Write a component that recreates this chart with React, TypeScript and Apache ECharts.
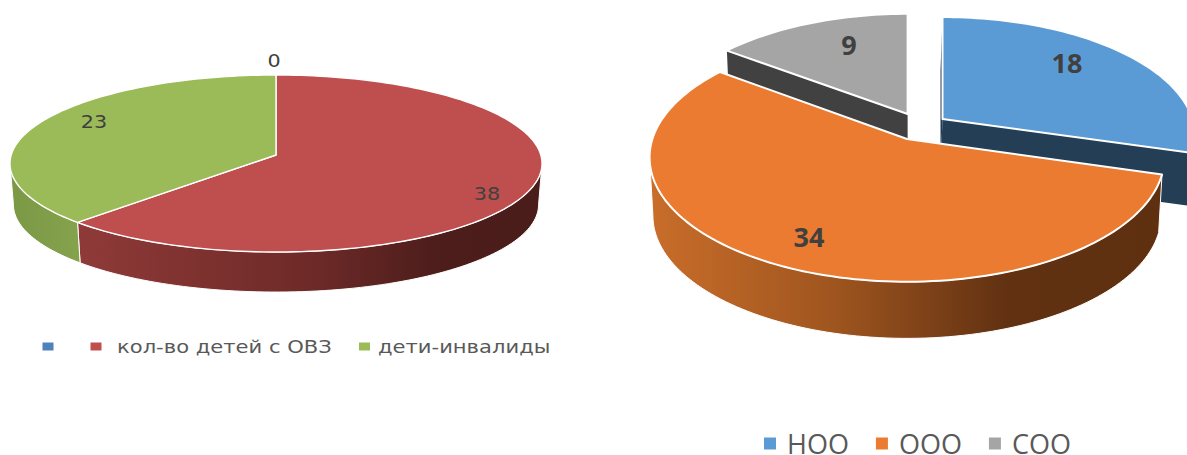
import React, { useEffect, useRef } from "react";
import * as echarts from "echarts";

const leftNames = [" ", "кол-во детей с ОВЗ", "дети-инвалиды"];
const leftValues = [0, 38, 23];
const rightNames = ["НОО", "ООО", "СОО"];
const rightValues = [18, 34, 9];

type Face = { ax: number; ay: number; A: number; B: number; k: number; depth: number; s: number; bdx?: number };
type SliceStyle = {
  top: string; side?: any; radial?: string; radialAt?: "start" | "end"; sliver?: string;
  z: number; label: [number, number]; face: Face;
};

const TAU = Math.PI * 2;
const leftFace: Face = { ax: 276, ay: 155, A: 264.8, B: 87.7, k: 0.096, depth: 41.3, s: 0.987 };
const hGrad = (stops: [number, string][]) =>
  new echarts.graphic.LinearGradient(0, 0, 1, 0, stops.map(([offset, color]) => ({ offset, color })));

const leftStyles: SliceStyle[] = [
  { top: "#4F81BD", side: "#3A5F8C", z: 1, label: [274, 61], face: leftFace },
  {
    top: "#BE4F4E",
    side: hGrad([[0, "#8F3A38"], [0.5, "#6E2A28"], [0.78, "#4C1D1B"], [1, "#4A1C1A"]]),
    z: 1, label: [487, 194], face: leftFace,
  },
  {
    top: "#9BBB59",
    side: hGrad([[0, "#7B9845"], [1, "#85A34D"]]),
    z: 1, label: [94, 122], face: leftFace,
  },
];
const rightStyles: SliceStyle[] = [
  {
    top: "#5B9BD5", radial: "#243F55", radialAt: "end", sliver: "#243F55", z: 1, label: [1067, 62],
    face: { ax: 942.5, ay: 119, A: 250, B: 117, k: 0.148, depth: 53, s: 1, bdx: -2 },
  },
  {
    top: "#EA7B30",
    side: hGrad([[0, "#C96D2A"], [0.35, "#A0561F"], [0.7, "#613112"], [1, "#5E3010"]]),
    z: 3, label: [809, 236],
    face: { ax: 907, ay: 139, A: 254.6, B: 121.6, k: 0.148, depth: 58.5, s: 0.987 },
  },
  {
    top: "#A5A5A5", radial: "#414141", radialAt: "start", z: 2, label: [849, 44],
    face: { ax: 907.6, ay: 114, A: 246, B: 115, k: 0.148, depth: 55, s: 0.987 },
  },
];

function project(f: Face, theta: number, r: number, lower: boolean): [number, number] {
  const u = Math.sin(theta) * r;
  const v = Math.cos(theta) * r;
  const w = 1 + f.k * v;
  const X = (f.A * u) / w;
  const Y = (-f.B * v) / w;
  if (!lower) return [f.ax + X, f.ay + Y];
  return [f.ax + (f.bdx || 0) + X * f.s, f.ay + f.depth + Y * f.s];
}

function arc(f: Face, a: number, b: number, lower: boolean) {
  const n = Math.max(2, Math.ceil(((b - a) / TAU) * 240));
  const pts: [number, number][] = [];
  for (let i = 0; i <= n; i++) pts.push(project(f, a + ((b - a) * i) / n, 1, lower));
  return pts;
}

function makeSeries(
  names: string[], values: number[], styles: SliceStyle[],
  font: { size: number; family: string; weight: number | string; scaleX: number; edge: number }
) {
  const total = values.reduce((p, c) => p + c, 0);
  let acc = 0;
  return names.map((name, i) => {
    const start = (acc / total) * TAU;
    acc += values[i];
    const end = (acc / total) * TAU;
    const st = styles[i];
    const renderItem = (_: any, api: any) => {
      const value = api.value(0);
      const f = st.face;
      const children: any[] = [];
      const stroke = { stroke: "#fff", lineWidth: font.edge, lineJoin: "round" };
      // radial side faces
      const radialFace = (theta: number, fill: string, z2: number) => ({
        type: "polygon", z2,
        shape: {
          points: [
            project(f, theta, 0, false), project(f, theta, 1, false),
            project(f, theta, 1, true), project(f, theta, 0, true),
          ],
        },
        style: { fill },
      });
      if (st.sliver) children.push(radialFace(start, st.sliver, 1));
      if (st.radial) children.push(radialFace(st.radialAt === "end" ? end : start, st.radial, 2));
      // curved rim, between the two points where the outline turns back
      const turn = Math.acos(-f.k);
      const a = Math.max(start, turn);
      const b = Math.min(end, TAU - turn);
      if (st.side && b > a) {
        children.push({
          type: "polygon", z2: 3,
          shape: { points: [...arc(f, a, b, false), ...arc(f, a, b, true).reverse()] },
          style: { fill: st.side, stroke: "#fff", lineWidth: 1, lineJoin: "round" },
        });
      }
      // top face
      if (end > start) {
        children.push({
          type: "polygon", z2: 4,
          shape: { points: [project(f, start, 0, false), ...arc(f, start, end, false)] },
          style: { fill: st.top, ...stroke },
        });
      }
      children.push({
        type: "text", z2: 5,
        x: st.label[0], y: st.label[1], scaleX: font.scaleX,
        style: {
          text: String(value), fill: "#404040",
          fontSize: font.size, fontFamily: font.family, fontWeight: font.weight,
          textAlign: "center", textVerticalAlign: "middle",
        },
      });
      return { type: "group", children };
    };
    return {
      type: "custom", name, coordinateSystem: "none", silent: true, z: st.z,
      itemStyle: { color: st.top }, data: [[values[i]]], renderItem, clip: false,
    };
  });
}

// left legend: the reference's text is stretched sideways, which a legend component cannot do
const leftKeyMarkX = [42.5, 90.5, 359];
const leftKeyTextX = [58, 117, 378];
const leftKey = leftNames.flatMap((name, i) => [
  {
    type: "rect", silent: true,
    shape: { x: leftKeyMarkX[i], y: 342.5, width: 11, height: 8 },
    style: { fill: leftStyles[i].top },
  },
  {
    type: "text", silent: true,
    x: leftKeyTextX[i], y: 347, scaleX: 1.14,
    style: {
      text: name, fill: "#595959", fontFamily: "DejaVu Sans", fontSize: 18.5,
      textAlign: "left", textVerticalAlign: "middle",
    },
  },
]);

export default function App() {
  const ref = useRef<HTMLDivElement>(null);
  useEffect(() => {
    const chart = echarts.init(ref.current!, null, { renderer: "svg" });
    chart.setOption({
      animation: false,
      backgroundColor: "#fff",
      graphic: { elements: leftKey },
      legend: {
        data: rightNames, left: 764, top: 430, icon: "rect",
        itemWidth: 12, itemHeight: 12, itemGap: 27, padding: 0, selectedMode: false,
        textStyle: { fontFamily: "Open Sans", fontSize: 27, color: "#595959", lineHeight: 21, padding: [0, 0, 0, 6] },
      },
      series: [
        ...makeSeries(leftNames, leftValues, leftStyles, { size: 18, family: "DejaVu Sans", weight: 400, scaleX: 1.15, edge: 1.4 }),
        ...makeSeries(rightNames, rightValues, rightStyles, { size: 27, family: "Open Sans", weight: 700, scaleX: 1, edge: 2 }),
      ],
    });
    return () => chart.dispose();
  }, []);
  return <div ref={ref} style={{ position: "fixed", left: 0, top: 0, width: 1187, height: 455 }} />;
}
